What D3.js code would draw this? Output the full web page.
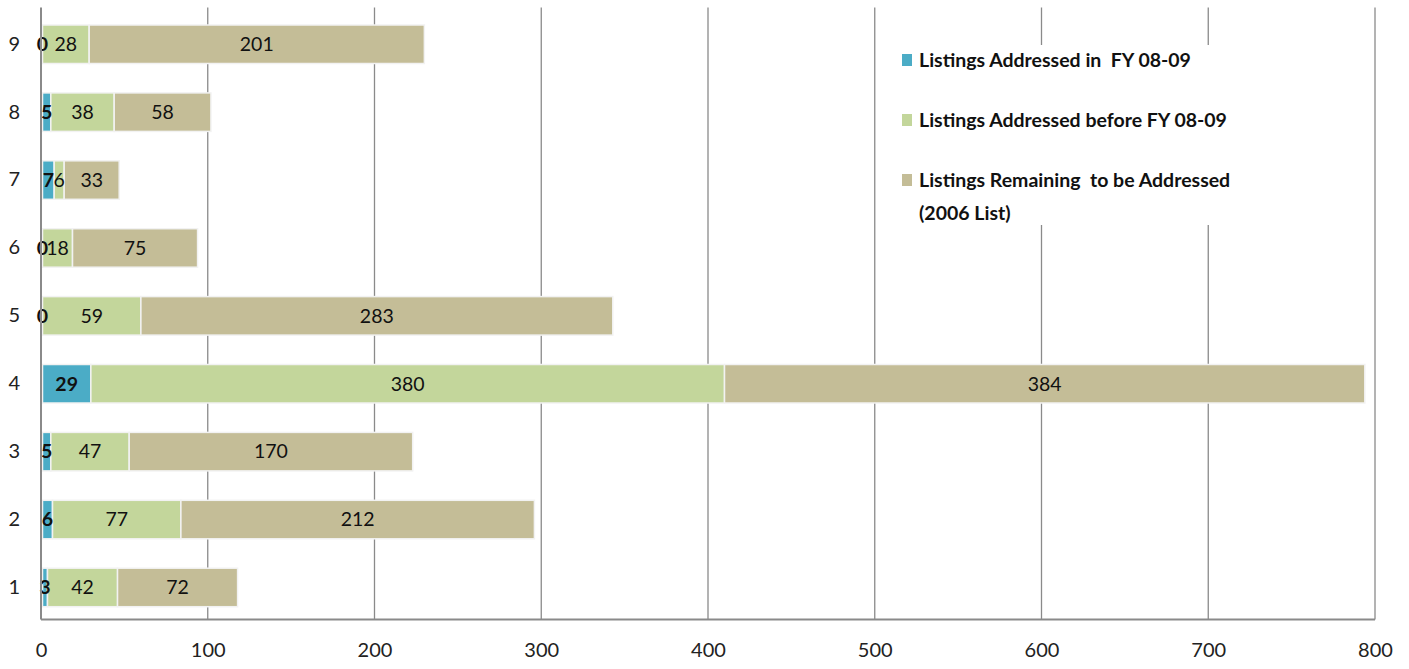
<!DOCTYPE html>
<html>
<head>
<meta charset="utf-8">
<script src="https://cdn.jsdelivr.net/npm/d3@7"></script>
<style>
  body { margin: 0; background: #fff; }
  svg { display: block; font-family: Lato, "Open Sans", sans-serif; }
</style>
</head>
<body>
<svg id="chart" width="1409" height="669"></svg>
<script>
// data (rows bottom to top)
const categories = ["1", "2", "3", "4", "5", "6", "7", "8", "9"];
const addressedIn = [3, 6, 5, 29, 0, 0, 7, 5, 0];
const addressedBefore = [42, 77, 47, 380, 59, 18, 6, 38, 28];
const remaining = [72, 212, 170, 384, 283, 75, 33, 58, 201];
const seriesNames = [
  "Listings Addressed in  FY 08-09",
  "Listings Addressed before FY 08-09",
  "Listings Remaining  to be Addressed"
];
const xTicks = [0, 100, 200, 300, 400, 500, 600, 700, 800];

const colors = ["#4BACC6", "#C3D69B", "#C4BD97"];

const margin = {top: 7.5, right: 34, bottom: 49.5, left: 41};
const width = 1409 - margin.left - margin.right;
const height = 669 - margin.top - margin.bottom;

const svg = d3.select("#chart");
const g = svg.append("g").attr("transform", "translate(" + margin.left + "," + margin.top + ")");

const x = d3.scaleLinear().domain([0, 800]).range([0, width]);
const y = d3.scaleBand().domain(categories.slice().reverse())
  .range([2.8, 613.9]).paddingInner(0.433).paddingOuter(0.2165);

const rows = categories.map((c, i) => ({cat: c, vals: [addressedIn[i], addressedBefore[i], remaining[i]]}));
const stack = d3.stack().keys([0, 1, 2]).value((d, k) => d.vals[k])(rows);

// gridlines
g.append("g")
  .selectAll("line")
  .data(xTicks.slice(1))
  .enter().append("line")
  .attr("x1", d => x(d)).attr("x2", d => x(d))
  .attr("y1", 0).attr("y2", height)
  .attr("stroke", "#8a8a8a")
  .attr("stroke-width", 1.3);

// bars
stack.forEach((s, k) => {
  g.append("g").selectAll("rect")
    .data(s)
    .enter().append("rect")
    .attr("x", d => x(d[0]) + 1.5)
    .attr("y", d => y(d.data.cat))
    .attr("width", d => Math.max(0, x(d[1]) - x(d[0])))
    .attr("height", y.bandwidth())
    .attr("fill", colors[k])
    .attr("stroke", "#f2f2f2")
    .attr("stroke-width", 1.5);
});

// value labels
stack.forEach((s, k) => {
  g.append("g").selectAll("text")
    .data(s)
    .enter().append("text")
    .attr("x", d => x((d[0] + d[1]) / 2) + 1.5)
    .attr("y", d => y(d.data.cat) + y.bandwidth() / 2)
    .attr("dy", "0.35em")
    .attr("text-anchor", "middle")
    .attr("font-size", 19.5)
    .attr("font-weight", k === 0 ? 700 : 400)
    .attr("fill", "#111")
    .text(d => d.data.vals[k]);
});

// axes
g.append("line")
  .attr("x1", 0).attr("x2", 0).attr("y1", 0).attr("y2", height)
  .attr("stroke", "#8a8a8a").attr("stroke-width", 2);
g.append("line")
  .attr("x1", 0).attr("x2", width).attr("y1", height).attr("y2", height)
  .attr("stroke", "#8a8a8a").attr("stroke-width", 2);

const xAxis = d3.axisBottom(x).tickValues(xTicks).tickSize(0).tickPadding(23);
g.append("g")
  .attr("transform", "translate(0," + height + ")")
  .call(xAxis)
  .call(a => a.select(".domain").remove())
  .selectAll("text")
  .attr("font-family", "Lato, 'Open Sans', sans-serif")
  .attr("font-size", 20)
  .attr("fill", "#222");

const yAxis = d3.axisLeft(y).tickSize(0).tickPadding(21);
g.append("g")
  .call(yAxis)
  .call(a => a.select(".domain").remove())
  .selectAll("text")
  .attr("font-family", "Lato, 'Open Sans', sans-serif")
  .attr("font-size", 20)
  .attr("fill", "#222");

// legend
const legend = svg.append("g").attr("transform", "translate(890,45)");
legend.append("rect")
  .attr("x", 0).attr("y", 0).attr("width", 370).attr("height", 180)
  .attr("fill", "#fff");
seriesNames.forEach((name, i) => {
  const ly = 15 + i * 60;
  legend.append("rect")
    .attr("x", 12).attr("y", ly - 6).attr("width", 10).attr("height", 12)
    .attr("fill", colors[i]);
  legend.append("text")
    .attr("x", 29).attr("y", ly)
    .attr("dy", "0.35em")
    .attr("font-size", 19.5)
    .attr("font-weight", 700)
    .attr("fill", "#111")
    .style("white-space", "pre")
    .text(name);
  if (i === 2) {
    legend.append("text")
      .attr("x", 29).attr("y", ly + 33)
      .attr("dy", "0.35em")
      .attr("font-size", 19.5)
      .attr("font-weight", 700)
      .attr("fill", "#111")
      .text("(2006 List)");
  }
});
</script>
</body>
</html>
